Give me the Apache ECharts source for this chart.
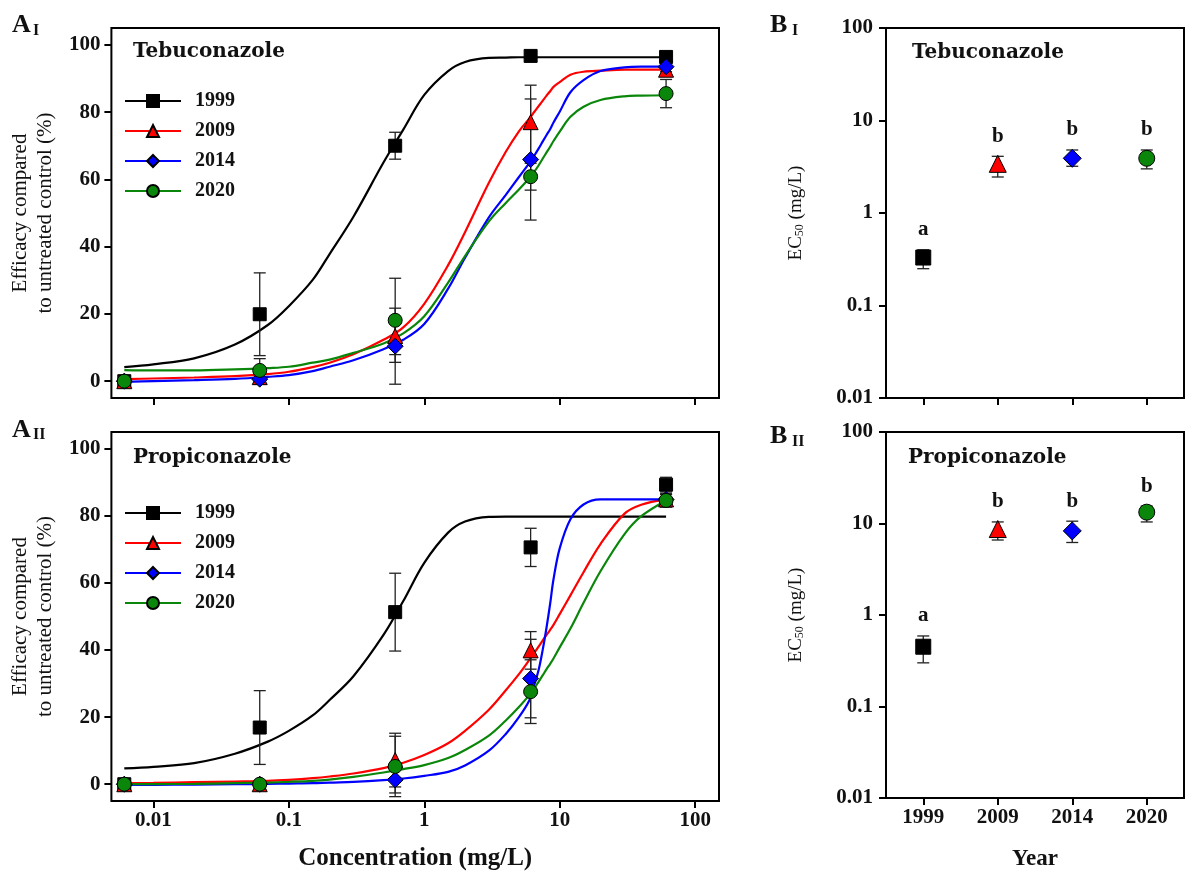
<!DOCTYPE html>
<html><head><meta charset="utf-8">
<script src="https://cdn.jsdelivr.net/npm/echarts@6/dist/echarts.min.js"></script>
<style>html,body{margin:0;padding:0;background:#fff}#c{width:1186px;height:872px}</style>
</head><body><div id="c"></div>
<script>
// ---------------- data ----------------
const years = ['1999', '2009', '2014', '2020'];
const concPoints = [0.0061, 0.061, 0.61, 6.1, 61];
const xTicks = [0.01, 0.1, 1, 10, 100];
const yTicksA = [0, 20, 40, 60, 80, 100];
const yTicksB = [0.01, 0.1, 1, 10, 100];

// fitted curves at these concentrations
const curveConc = [0.0061, 0.01, 0.02, 0.04, 0.07, 0.1, 0.15, 0.2, 0.3, 0.5, 0.7, 1, 1.5, 2, 3, 4, 5, 6, 6.5, 7, 7.5, 8, 8.5, 9, 10, 12, 15, 20, 30, 40, 61];

const tebuCurve1999 = [4.2, 5.0, 6.8, 10.9, 16.7, 22.3, 30.1, 37.8, 48.9, 65.0, 74.8, 85.1, 92.2, 94.9, 96.1, 96.2, 96.3, 96.3, 96.3, 96.3, 96.3, 96.3, 96.3, 96.3, 96.3, 96.3, 96.3, 96.3, 96.3, 96.3, 96.3];
const tebuCurve2009 = [0.6, 0.8, 1.1, 1.5, 2.1, 2.8, 4.2, 5.5, 8.0, 12.3, 16.0, 23.0, 34.5, 44.3, 59.0, 68.2, 74.3, 78.2, 80.1, 81.8, 83.4, 84.9, 86.2, 87.5, 88.9, 91.1, 92.0, 92.3, 92.6, 92.6, 92.6];
const tebuCurve2014 = [-0.2, 0.0, 0.3, 0.7, 1.3, 1.8, 3.0, 4.3, 6.2, 9.5, 12.3, 17.0, 27.5, 36.7, 48.7, 55.4, 60.7, 65.0, 67.1, 69.2, 71.3, 73.2, 74.9, 76.9, 80.1, 85.9, 89.5, 92.2, 93.3, 93.5, 93.5];
const tebuCurve2020 = [3.3, 3.2, 3.2, 3.5, 3.9, 4.3, 5.5, 6.4, 8.4, 11.2, 14.2, 19.3, 29.3, 37.2, 47.5, 53.0, 57.0, 60.5, 62.3, 64.2, 66.2, 68.0, 69.7, 71.4, 74.2, 78.6, 81.6, 83.6, 84.7, 84.9, 85.0];

const propCurve1999 = [4.7, 5.2, 6.3, 9.1, 12.7, 15.9, 20.5, 25.1, 32.2, 44.5, 54.6, 66.0, 75.0, 78.3, 79.7, 79.8, 79.8, 79.8, 79.8, 79.8, 79.8, 79.8, 79.8, 79.8, 79.8, 79.8, 79.8, 79.8, 79.8, 79.8, 79.8];
const propCurve2009 = [0.3, 0.4, 0.6, 0.8, 1.0, 1.3, 1.8, 2.3, 3.2, 4.8, 6.4, 8.7, 12.2, 15.9, 22.2, 28.0, 32.8, 37.2, 39.2, 41.1, 42.9, 44.5, 46.0, 47.5, 50.7, 56.3, 63.2, 71.6, 80.6, 83.3, 84.9];
const propCurve2014 = [-0.2, -0.2, -0.1, 0.0, 0.1, 0.2, 0.3, 0.5, 0.7, 1.2, 1.7, 2.5, 3.7, 5.6, 10.0, 15.0, 20.0, 25.2, 29.7, 34.2, 40.2, 46.8, 53.8, 61.1, 70.3, 79.0, 83.4, 84.9, 84.9, 84.9, 84.9];
const propCurve2020 = [0.0, 0.05, 0.1, 0.3, 0.5, 0.7, 1.0, 1.4, 2.2, 3.5, 4.5, 5.7, 7.8, 10.2, 14.5, 19.0, 23.0, 26.7, 28.6, 30.6, 32.5, 34.3, 35.9, 37.5, 40.8, 46.4, 54.1, 63.5, 74.5, 79.9, 84.6];

// measured means and errors (efficacy, %)
const tebuMean1999 = [0, 19.9, 70.0, 96.7, 96.4];
const tebuErr1999  = [0, 12.3, 4.0, 0.8, 1.0];
const tebuMean2009 = [0, 1.2, 13.4, 77.0, 92.6];
const tebuErr2009  = [0, 1.5, 5.5, 11.0, 1.8];
const tebuMean2014 = [0, 0.6, 10.4, 65.9, 93.5];
const tebuErr2014  = [0, 1.5, 11.3, 18.0, 1.5];
const tebuMean2020 = [0, 3.2, 18.1, 60.8, 85.5];
const tebuErr2020  = [0, 3.5, 12.5, 4.0, 4.2];

const propMean1999 = [0, 16.9, 51.3, 70.6, 89.3];
const propErr1999  = [0, 11.0, 11.6, 5.7, 2.2];
const propMean2009 = [0, 0, 7.2, 39.9, 84.9];
const propErr2009  = [0, 0, 8.0, 5.6, 1.5];
const propMean2014 = [0, 0, 1.3, 31.5, 84.9];
const propErr2014  = [0, 0, 3.9, 11.7, 1.5];
const propMean2020 = [0, 0, 5.3, 27.6, 84.6];
const propErr2020  = [0, 0, 9.0, 9.5, 2.0];

// EC50 (mg/L)
const ec50Tebu     = [0.33, 3.4, 3.9, 3.9];
const ec50TebuLow  = [0.25, 2.45, 3.2, 3.0];
const ec50TebuHigh = [0.40, 4.1, 4.8, 4.8];
const ec50Prop     = [0.45, 8.7, 8.3, 13.3];
const ec50PropLow  = [0.30, 6.6, 6.2, 10.4];
const ec50PropHigh = [0.59, 10.4, 10.6, 15.5];
const lettersTebu = ['a', 'b', 'b', 'b'];
const lettersProp = ['a', 'b', 'b', 'b'];

// ---------------- styles ----------------
const FONT = "'Liberation Serif', 'Times New Roman', serif";
const TFONT = "'DejaVu Serif', serif";
const TXT = '#111';
const colors = ['#000000', '#ff0000', '#0000ff', '#0a870a'];
const symbols = ['rect', 'triangle', 'diamond', 'circle'];
const sizesA = [13, 15, 16, 14];
const sizesB = [15, 17, 18, 16];

function errRender(params, api) {
  const lo = api.value(1), hi = api.value(2);
  if (!(hi > lo)) return null;
  const x = api.value(0);
  const a = api.coord([x, lo]);
  const b = api.coord([x, hi]);
  const w = 6;
  const st = { stroke: '#222', lineWidth: 1.3 };
  return { type: 'group', children: [
    { type: 'line', shape: { x1: a[0], y1: a[1], x2: b[0], y2: b[1] }, style: st },
    { type: 'line', shape: { x1: a[0] - w, y1: a[1], x2: a[0] + w, y2: a[1] }, style: st },
    { type: 'line', shape: { x1: b[0] - w, y1: b[1], x2: b[0] + w, y2: b[1] }, style: st }
  ]};
}

const aSets = [
  { curves: [tebuCurve1999, tebuCurve2009, tebuCurve2014, tebuCurve2020],
    means: [tebuMean1999, tebuMean2009, tebuMean2014, tebuMean2020],
    errs: [tebuErr1999, tebuErr2009, tebuErr2014, tebuErr2020] },
  { curves: [propCurve1999, propCurve2009, propCurve2014, propCurve2020],
    means: [propMean1999, propMean2009, propMean2014, propMean2020],
    errs: [propErr1999, propErr2009, propErr2014, propErr2020] }
];
const bSets = [
  { mid: ec50Tebu, lo: ec50TebuLow, hi: ec50TebuHigh, letters: lettersTebu },
  { mid: ec50Prop, lo: ec50PropLow, hi: ec50PropHigh, letters: lettersProp }
];

const series = [];
aSets.forEach((set, p) => {
  years.forEach((yr, i) => {
    series.push({
      type: 'line', name: yr, xAxisIndex: p, yAxisIndex: p,
      data: curveConc.map((c, k) => [c, set.curves[i][k]]),
      smooth: 0.35, showSymbol: false, symbol: symbols[i], symbolSize: sizesA[i],
      lineStyle: { color: colors[i], width: 2.2 },
      itemStyle: { color: colors[i], borderColor: '#000', borderWidth: 1 },
      silent: true, z: 2
    });
  });
  years.forEach((yr, i) => {
    series.push({
      type: 'custom', name: yr, xAxisIndex: p, yAxisIndex: p,
      data: concPoints.map((c, k) => [c, set.means[i][k] - set.errs[i][k], set.means[i][k] + set.errs[i][k]]),
      encode: { x: 0, y: [1, 2] }, renderItem: errRender, silent: true, z: 3
    });
  });
  years.forEach((yr, i) => {
    series.push({
      type: 'scatter', name: yr, xAxisIndex: p, yAxisIndex: p,
      data: concPoints.map((c, k) => [c, set.means[i][k]]),
      symbol: symbols[i], symbolSize: sizesA[i],
      itemStyle: { color: colors[i], borderColor: '#000', borderWidth: 1, opacity: 1 },
      silent: true, z: 4
    });
  });
});
bSets.forEach((set, q) => {
  const ax = q + 2;
  series.push({
    type: 'custom', xAxisIndex: ax, yAxisIndex: ax,
    data: years.map((yr, i) => [yr, set.lo[i], set.hi[i]]),
    encode: { x: 0, y: [1, 2] }, renderItem: errRender, silent: true, z: 3
  });
  series.push({
    type: 'scatter', xAxisIndex: ax, yAxisIndex: ax,
    data: years.map((yr, i) => ({ value: [yr, set.mid[i]], symbol: symbols[i], symbolSize: sizesB[i],
      itemStyle: { color: colors[i], borderColor: '#000', borderWidth: 1, opacity: 1 } })),
    silent: true, z: 4
  });
  series.push({
    type: 'scatter', xAxisIndex: ax, yAxisIndex: ax,
    data: years.map((yr, i) => [yr, set.hi[i]]),
    symbol: 'circle', symbolSize: 1, itemStyle: { color: 'rgba(0,0,0,0)', opacity: 1 },
    label: { show: true, position: 'top', distance: 9, formatter: (pr) => set.letters[pr.dataIndex],
      fontFamily: FONT, fontSize: 21, fontWeight: 'bold', color: TXT, opacity: 1 },
    silent: true, z: 5
  });
});

const tickStyle = { show: true, length: 7, lineStyle: { color: '#000', width: 2 } };
const labelBase = { fontFamily: FONT, fontSize: 21, fontWeight: 'bold', color: TXT };

function logX(grid, showLabels) {
  return {
    type: 'log', logBase: 10, gridIndex: grid, min: 0.0049, max: 150,
    axisLine: { show: false, onZero: false },
    axisTick: Object.assign({ customValues: xTicks }, tickStyle),
    axisLabel: Object.assign({ show: showLabels, customValues: xTicks, margin: 9 }, labelBase),
    splitLine: { show: false }, minorTick: { show: false },
    name: showLabels ? 'Concentration (mg/L)' : '', nameLocation: 'middle', nameGap: 45,
    nameTextStyle: { fontFamily: FONT, fontSize: 25, fontWeight: 'bold', color: TXT }
  };
}
function linY(grid) {
  return {
    type: 'value', gridIndex: grid, min: -5, max: 105,
    axisLine: { show: false, onZero: false },
    axisTick: Object.assign({ customValues: yTicksA }, tickStyle),
    axisLabel: Object.assign({ customValues: yTicksA, margin: 11 }, labelBase),
    splitLine: { show: false },
    name: 'Efficacy compared\nto untreated control (%)', nameLocation: 'middle', nameRotate: 90, nameGap: 52,
    nameTextStyle: { fontFamily: FONT, fontSize: 21, lineHeight: 25, color: TXT, fontWeight: 'normal' }
  };
}
function catX(grid, showLabels) {
  return {
    type: 'category', gridIndex: grid, data: years, boundaryGap: true,
    axisLine: { show: false, onZero: false },
    axisTick: Object.assign({ alignWithLabel: true }, tickStyle),
    axisLabel: Object.assign({ show: showLabels, margin: 9 }, labelBase),
    splitLine: { show: false },
    name: showLabels ? 'Year' : '', nameLocation: 'middle', nameGap: 50,
    nameTextStyle: { fontFamily: FONT, fontSize: 23, fontWeight: 'bold', color: TXT }
  };
}
function logY(grid) {
  return {
    type: 'log', logBase: 10, gridIndex: grid, min: 0.01, max: 100,
    axisLine: { show: false, onZero: false },
    axisTick: Object.assign({ customValues: yTicksB }, tickStyle),
    axisLabel: Object.assign({ customValues: yTicksB, margin: 13 }, labelBase),
    splitLine: { show: false }, minorTick: { show: false },
    name: '{n|EC}{s|50}{n| (mg/L)}', nameLocation: 'middle', nameRotate: 90, nameGap: 80,
    nameTextStyle: { rich: {
      n: { fontFamily: FONT, fontSize: 19, color: TXT, verticalAlign: 'bottom' },
      s: { fontFamily: FONT, fontSize: 12, color: TXT, verticalAlign: 'bottom' }
    } }
  };
}

const gridBase = { show: true, borderColor: '#000', borderWidth: 2, backgroundColor: 'rgba(0,0,0,0)', containLabel: false };
const legendBase = {
  data: years, orient: 'vertical', left: 119, itemWidth: 56, itemHeight: 15, itemGap: 10, selectedMode: false,
  textStyle: { fontFamily: FONT, fontSize: 20, fontWeight: 'bold', color: TXT, lineHeight: 20, padding: [0, 0, 0, 9] }
};

function txt(x, y, text, font) {
  return { type: 'text', x: x, y: y, silent: true,
    style: { text: text, font: font, fill: TXT, textAlign: 'left', textVerticalAlign: 'middle' } };
}
const PL = "bold 26px " + FONT, PS = "bold 16px " + FONT, TT = "bold 20px " + TFONT;

const option = {
  animation: false,
  backgroundColor: '#fff',
  grid: [
    Object.assign({ left: 111, top: 28, width: 608, height: 370 }, gridBase),
    Object.assign({ left: 111, top: 432, width: 608, height: 371 }, gridBase),
    Object.assign({ left: 886, top: 28, width: 298, height: 370 }, gridBase),
    Object.assign({ left: 886, top: 432, width: 298, height: 370 }, gridBase)
  ],
  xAxis: [logX(0, false), logX(1, true), catX(2, false), catX(3, true)],
  yAxis: [linY(0), linY(1), logY(2), logY(3)],
  legend: [
    Object.assign({ top: 86 }, legendBase),
    Object.assign({ top: 498 }, legendBase)
  ],
  graphic: [
    txt(12, 25, 'A', PL), txt(33, 31, 'I', PS),
    txt(12, 430, 'A', PL), txt(33, 435, 'II', PS),
    txt(770, 25, 'B', PL), txt(792, 31, 'I', PS),
    txt(770, 436, 'B', PL), txt(792, 442, 'II', PS),
    txt(133, 52, 'Tebuconazole', TT),
    txt(133, 458, 'Propiconazole', TT),
    txt(912, 53, 'Tebuconazole', TT),
    txt(908, 458, 'Propiconazole', TT)
  ],
  series: series
};

const chart = echarts.init(document.getElementById('c'), null, { renderer: 'canvas' });
chart.setOption(option);
</script>
</body></html>
